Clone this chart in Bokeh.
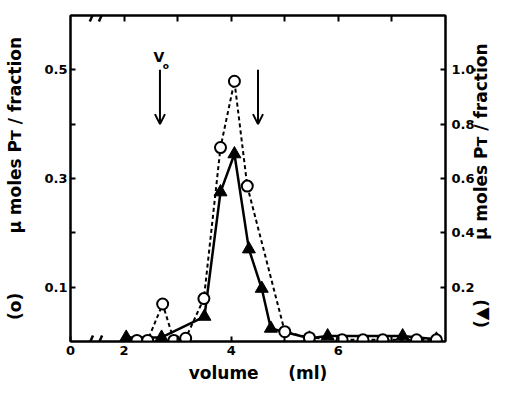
import math
from bokeh.plotting import figure
from bokeh.models import Range1d, LinearAxis, FixedTicker, Label, Arrow, OpenHead, PrintfTickFormatter
from bokeh.embed import file_html
from bokeh.resources import INLINE

# open circles (left axis), dashed line
circle_x = [2.24, 2.44, 2.72, 2.93, 3.15, 3.49, 3.80, 4.06, 4.30, 5.00, 5.46, 6.07, 6.46, 6.83, 7.46, 7.83]
circle_y = [0.002, 0.002, 0.069, 0.002, 0.006, 0.079, 0.357, 0.479, 0.286, 0.018, 0.007, 0.003, 0.003, 0.003, 0.003, 0.003]
# filled triangles (right axis), solid line
tri_x = [2.04, 2.70, 3.50, 3.80, 4.06, 4.33, 4.57, 4.74, 5.46, 5.80, 7.20, 7.83]
tri_y = [0.015, 0.015, 0.092, 0.55, 0.69, 0.34, 0.195, 0.048, 0.012, 0.02, 0.02, 0.008]

x_major = [1, 2, 4, 6]
x_labels = {1: "0"}
x_minor = [3, 5, 7]
left_major = [0.1, 0.3, 0.5]
left_minor = [0.2, 0.4]
right_ticks = [0.2, 0.4, 0.6, 0.8, 1.0]
arrow_x = [2.67, 4.50]
# axis-break slashes: centres on bottom and top axes
break_bottom = [1.37, 1.54]
break_top = [1.41, 1.58]

FONT = "DejaVu Sans"
NB = "\u00a0"
label_tail = "\u03bc moles" + NB + "P\u1d1b" + NB + "/ fraction"
left_title = "(o)" + NB * 10 + label_tail
right_title = "(\u25b2)" + NB * 10 + label_tail
right_title_start = 0.05  # right-axis value where the rotated right title begins

p = figure(width=504, height=385, x_range=Range1d(1.0, 8.0), y_range=Range1d(0, 0.6),
           output_backend="svg", toolbar_location=None,
           min_border_left=70, min_border_right=59, min_border_top=15, min_border_bottom=42)
p.grid.visible = False
p.outline_line_color = "black"
p.outline_line_width = 2
p.background_fill_color = "white"
p.border_fill_color = "white"

def style_axis(ax):
    ax.major_tick_in = 5
    ax.major_tick_out = 0
    ax.minor_tick_in = 5
    ax.minor_tick_out = 0
    ax.axis_line_width = 2
    ax.axis_line_color = "black"
    ax.major_tick_line_width = 2
    ax.minor_tick_line_width = 2
    ax.major_tick_line_color = "black"
    ax.minor_tick_line_color = "black"
    ax.major_label_text_font = FONT
    ax.major_label_text_font_style = "bold"
    ax.major_label_text_font_size = "13px"
    ax.major_label_text_color = "black"
    ax.axis_label_text_font = FONT
    ax.axis_label_text_font_style = "bold"
    ax.axis_label_text_font_size = "17px"
    ax.axis_label_text_color = "black"

xa = p.xaxis[0]
style_axis(xa)
xa.ticker = FixedTicker(ticks=x_major, minor_ticks=x_minor)
xa.major_label_overrides = x_labels
xa.axis_label = "volume" + NB * 5 + "(ml)"
xa.major_label_standoff = 4
xa.axis_label_standoff = 5

ya = p.yaxis[0]
style_axis(ya)
ya.ticker = FixedTicker(ticks=left_major, minor_ticks=left_minor)
ya.axis_label = left_title
ya.major_label_standoff = 3
ya.axis_label_standoff = 16

p.extra_y_ranges = {"r": Range1d(0, 1.2)}
ra = LinearAxis(y_range_name="r", ticker=FixedTicker(ticks=right_ticks),
                formatter=PrintfTickFormatter(format="%.1f"))
style_axis(ra)
ra.major_label_standoff = 6
p.add_layout(ra, "right")

# outer right "axis" that only carries the rotated right-hand title (reads bottom to top)
rt = LinearAxis(y_range_name="r", ticker=FixedTicker(ticks=[right_title_start], minor_ticks=[]))
style_axis(rt)
rt.axis_line_color = None
rt.major_tick_line_color = None
rt.major_label_overrides = {right_title_start: right_title}
rt.major_label_orientation = math.pi / 2
rt.major_label_text_font_size = "17px"
rt.major_label_standoff = 4
p.add_layout(rt, "right")

ta = LinearAxis(ticker=FixedTicker(ticks=[], minor_ticks=[2, 3, 4, 5, 6, 7]))
style_axis(ta)
ta.minor_tick_in = 6
ta.major_label_standoff = 0
p.add_layout(ta, "above")

# curves
p.line(circle_x, circle_y, line_color="black", line_width=2, line_dash="4 3")
p.line(tri_x, tri_y, y_range_name="r", line_color="black", line_width=2.5)
p.scatter(tri_x, tri_y, y_range_name="r", marker="triangle", size=13,
          fill_color="black", line_color="black")
p.scatter(circle_x, circle_y, marker="circle", size=11, fill_color="white",
          line_color="black", line_width=2)

# axis break slashes (the part inside the frame)
dx, dy = 0.05, 0.011
p.segment(x0=[c - dx for c in break_bottom], y0=[-dy] * 2,
          x1=[c + dx for c in break_bottom], y1=[dy] * 2, line_color="black", line_width=2.5)
p.segment(x0=[c - dx for c in break_top], y0=[0.6 - dy] * 2,
          x1=[c + dx for c in break_top], y1=[0.6 + dy] * 2, line_color="black", line_width=2.5)

# arrows
for ax_ in arrow_x:
    p.add_layout(Arrow(end=OpenHead(size=10, line_width=2, line_color="black"),
                       x_start=ax_, y_start=0.50, x_end=ax_, y_end=0.40,
                       line_width=2, line_color="black"))

p.add_layout(Label(x=2.65, y=0.523, text="V", text_align="center", text_baseline="middle",
                   text_color="black", text_font=FONT, text_font_style="bold",
                   text_font_size="14px"))
p.add_layout(Label(x=2.78, y=0.507, text="o", text_align="center", text_baseline="middle",
                   text_color="black", text_font=FONT, text_font_style="bold",
                   text_font_size="9px"))

open("out.html", "w").write(file_html(p, INLINE))
